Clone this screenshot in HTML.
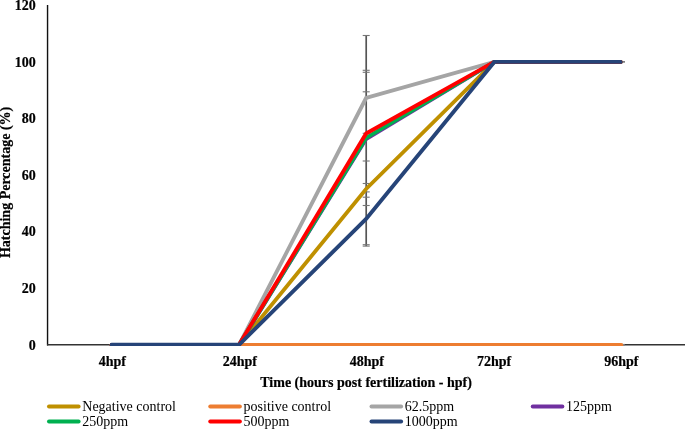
<!DOCTYPE html>
<html><head><meta charset="utf-8"><title>Hatching Percentage</title>
<style>
html,body{margin:0;padding:0;background:#fff;}
body{width:685px;height:429px;overflow:hidden;font-family:"Liberation Serif",serif;}
svg{display:block;}
.tx{filter:grayscale(1);}
text{font-family:"Liberation Serif",serif;fill:#000;}
.b{font-weight:bold;font-size:14px;stroke:#000;stroke-width:0.2px;}
.l{font-size:14px;}
</style></head><body>
<svg width="685" height="429" viewBox="0 0 685 429">
<rect width="685" height="429" fill="#fff"/>
<defs><clipPath id="pa"><rect x="40" y="0" width="645" height="345.9"/></clipPath></defs>

<line x1="47.55" y1="5.1" x2="47.55" y2="345.5" stroke="#111" stroke-width="1.4"/>
<line x1="47" y1="344.8" x2="685" y2="344.8" stroke="#333" stroke-width="1.6"/>
<line x1="366.2" y1="35.5" x2="366.2" y2="246.1" stroke="#555" stroke-width="1.7"/>
<line x1="362.7" y1="35.5" x2="369.7" y2="35.5" stroke="#767676" stroke-width="1.1"/>
<line x1="362.7" y1="70.3" x2="369.7" y2="70.3" stroke="#767676" stroke-width="1.1"/>
<line x1="362.7" y1="72.3" x2="369.7" y2="72.3" stroke="#767676" stroke-width="1.1"/>
<line x1="362.7" y1="91.8" x2="369.7" y2="91.8" stroke="#767676" stroke-width="1.1"/>
<line x1="362.7" y1="133.3" x2="369.7" y2="133.3" stroke="#767676" stroke-width="1.1"/>
<line x1="362.7" y1="161.0" x2="369.7" y2="161.0" stroke="#767676" stroke-width="1.1"/>
<line x1="362.7" y1="183.5" x2="369.7" y2="183.5" stroke="#767676" stroke-width="1.1"/>
<line x1="362.7" y1="191.9" x2="369.7" y2="191.9" stroke="#767676" stroke-width="1.1"/>
<line x1="362.7" y1="197.2" x2="369.7" y2="197.2" stroke="#767676" stroke-width="1.1"/>
<line x1="362.7" y1="205.5" x2="369.7" y2="205.5" stroke="#767676" stroke-width="1.1"/>
<line x1="362.7" y1="244.7" x2="369.7" y2="244.7" stroke="#767676" stroke-width="1.1"/>
<line x1="362.7" y1="246.1" x2="369.7" y2="246.1" stroke="#767676" stroke-width="1.1"/>
<line x1="617.1" y1="61.9" x2="625.0" y2="61.9" stroke="#555" stroke-width="1.3"/>
<line x1="617.1" y1="344.8" x2="624.8000000000001" y2="344.8" stroke="#7a8088" stroke-width="1.8"/>
<g clip-path="url(#pa)" fill="none" stroke-linecap="round" stroke-linejoin="miter" stroke-miterlimit="10">
<polyline points="111.6,344.8 239.05,344.8 366.1,189.0 494.3,61.9 620.6,61.9" stroke="#BF9000" stroke-width="3.85"/>
<polyline points="111.6,344.8 239.05,344.8 366.1,344.8 494.3,344.8 621.4,344.8" stroke="#ED7D31" stroke-width="3.85"/>
<polyline points="111.6,344.8 239.05,344.8 366.1,98.0 494.3,61.9 620.6,61.9" stroke="#A5A5A5" stroke-width="3.85"/>
<polyline points="111.6,344.8 239.05,344.8 366.1,139.0 494.3,61.9 620.6,61.9" stroke="#7030A0" stroke-width="3.85"/>
<polyline points="111.6,344.8 239.05,344.8 366.1,137.9 494.3,61.9 620.6,61.9" stroke="#00B050" stroke-width="3.85"/>
<polyline points="111.6,344.8 239.05,344.8 366.1,133.5 494.3,61.9 620.6,61.9" stroke="#FF0000" stroke-width="3.85"/>
<polyline points="111.6,344.8 239.05,344.8 366.1,219.0 494.3,61.9 620.6,61.9" stroke="#264478" stroke-width="3.9"/>
</g>
<g class="tx">
<text class="b" x="35.7" y="349.80" text-anchor="end">0</text>
<text class="b" x="35.7" y="292.67" text-anchor="end">20</text>
<text class="b" x="35.7" y="236.14" text-anchor="end">40</text>
<text class="b" x="35.7" y="179.61" text-anchor="end">60</text>
<text class="b" x="35.7" y="123.08" text-anchor="end">80</text>
<text class="b" x="35.7" y="66.55" text-anchor="end">100</text>
<text class="b" x="35.7" y="10.02" text-anchor="end">120</text>
<text class="b" x="112.40" y="365.8" text-anchor="middle">4hpf</text>
<text class="b" x="239.85" y="365.8" text-anchor="middle">24hpf</text>
<text class="b" x="366.90" y="365.8" text-anchor="middle">48hpf</text>
<text class="b" x="494.00" y="365.8" text-anchor="middle">72hpf</text>
<text class="b" x="621.40" y="365.8" text-anchor="middle">96hpf</text>
<text class="b" x="366.1" y="386.8" text-anchor="middle">Time (hours post fertilization - hpf)</text>
<text class="b" transform="translate(9.9,182.4) rotate(-90)" text-anchor="middle">Hatching Percentage (%)</text>
<text class="l" x="82.30" y="410.90">Negative control</text>
<text class="l" x="243.55" y="410.90">positive control</text>
<text class="l" x="404.80" y="410.90">62.5ppm</text>
<text class="l" x="566.05" y="410.90">125ppm</text>
<text class="l" x="82.30" y="426.20">250ppm</text>
<text class="l" x="243.55" y="426.20">500ppm</text>
<text class="l" x="404.80" y="426.20">1000ppm</text>
</g>
<line x1="49.00" y1="406.40" x2="78.60" y2="406.40" stroke="#BF9000" stroke-width="4" stroke-linecap="round"/>
<line x1="210.25" y1="406.40" x2="239.85" y2="406.40" stroke="#ED7D31" stroke-width="4" stroke-linecap="round"/>
<line x1="371.50" y1="406.40" x2="401.10" y2="406.40" stroke="#A5A5A5" stroke-width="4" stroke-linecap="round"/>
<line x1="532.75" y1="406.40" x2="562.35" y2="406.40" stroke="#7030A0" stroke-width="4" stroke-linecap="round"/>
<line x1="49.00" y1="421.60" x2="78.60" y2="421.60" stroke="#00B050" stroke-width="4" stroke-linecap="round"/>
<line x1="210.25" y1="421.60" x2="239.85" y2="421.60" stroke="#FF0000" stroke-width="4" stroke-linecap="round"/>
<line x1="371.50" y1="421.60" x2="401.10" y2="421.60" stroke="#264478" stroke-width="4" stroke-linecap="round"/>
</svg></body></html>
